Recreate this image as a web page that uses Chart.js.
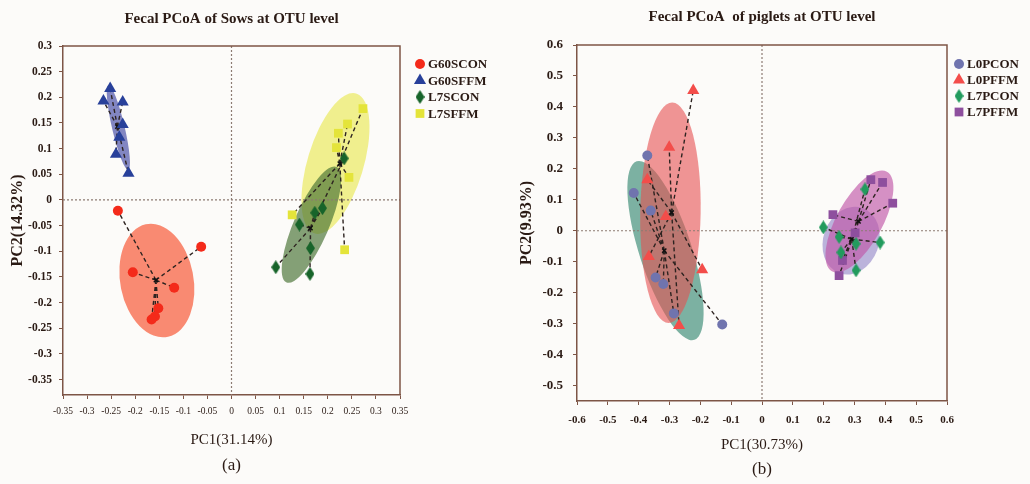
<!DOCTYPE html>
<html>
<head>
<meta charset="utf-8">
<script src="https://cdn.jsdelivr.net/npm/chart.js@4.4.1/dist/chart.umd.min.js"></script>
<style>
  html, body { margin: 0; padding: 0; background: #fcfbf9; }
  #wrap { position: relative; width: 1030px; height: 484px; }
  #sows { position: absolute; left: 0; top: 0; }
  #piglets { position: absolute; left: 520px; top: 0; }
</style>
</head>
<body>
<div id="wrap">
  <canvas id="sows" width="520" height="484"></canvas>
  <canvas id="piglets" width="510" height="484"></canvas>
</div>
<script>
// ---- (a) sows ----
const sowGroups = ['G60SCON', 'G60SFFM', 'L7SCON', 'L7SFFM'];
const g60sconX = [-0.236, -0.063, -0.205, -0.119, -0.152, -0.159, -0.166];
const g60sconY = [-0.021, -0.091, -0.141, -0.171, -0.211, -0.227, -0.233];
const g60sffmX = [-0.252, -0.266, -0.226, -0.226, -0.233, -0.240, -0.214];
const g60sffmY = [0.217, 0.193, 0.191, 0.147, 0.122, 0.089, 0.052];
const l7sconX = [0.234, 0.189, 0.173, 0.141, 0.164, 0.092, 0.163];
const l7sconY = [0.081, -0.016, -0.025, -0.048, -0.094, -0.131, -0.144];
const l7sffmX = [0.273, 0.241, 0.222, 0.218, 0.244, 0.126, 0.235];
const l7sffmY = [0.178, 0.148, 0.130, 0.102, 0.044, -0.029, -0.097];
const sowCentX = [-0.157, -0.237, 0.164, 0.225];
const sowCentY = [-0.156, 0.143, -0.055, 0.071];
// confidence ellipses: centre, half axes, angle in degrees
const sowEllX = [-0.155, -0.235, 0.166, 0.216];
const sowEllY = [-0.157, 0.141, -0.048, 0.071];
const sowEllA = [0.112, 0.085, 0.124, 0.143];
const sowEllB = [0.076, 0.013, 0.036, 0.058];
const sowEllRot = [102, 104, 65, 72];
const sowXTicks = [-0.35, -0.3, -0.25, -0.2, -0.15, -0.1, -0.05, 0, 0.05, 0.1, 0.15, 0.2, 0.25, 0.3, 0.35];
const sowYTicks = [0.3, 0.25, 0.2, 0.15, 0.1, 0.05, 0, -0.05, -0.1, -0.15, -0.2, -0.25, -0.3, -0.35];

// ---- (b) piglets ----
const pigGroups = ['L0PCON', 'L0PFFM', 'L7PCON', 'L7PFFM'];
const l0pconX = [-0.372, -0.416, -0.361, -0.345, -0.320, -0.286, -0.129];
const l0pconY = [0.243, 0.122, 0.065, -0.151, -0.172, -0.267, -0.303];
const l0pffmX = [-0.223, -0.301, -0.372, -0.312, -0.367, -0.194, -0.269];
const l0pffmY = [0.453, 0.270, 0.165, 0.046, -0.083, -0.126, -0.306];
const l7pconX = [0.334, 0.199, 0.250, 0.256, 0.305, 0.383, 0.305];
const l7pconY = [0.134, 0.011, -0.020, -0.070, -0.042, -0.038, -0.128];
const l7pffmX = [0.353, 0.391, 0.424, 0.230, 0.302, 0.261, 0.250];
const l7pffmY = [0.165, 0.156, 0.089, 0.052, -0.007, -0.096, -0.145];
const pigCentX = [-0.317, -0.293, 0.291, 0.313];
const pigCentY = [-0.064, 0.059, -0.027, 0.030];
const pigEllX = [-0.313, -0.297, 0.289, 0.316];
const pigEllY = [-0.064, 0.058, -0.032, 0.030];
const pigEllA = [0.303, 0.356, 0.112, 0.184];
const pigEllB = [0.085, 0.098, 0.09, 0.074];
const pigEllRot = [108, 89, 70, 61];
const pigXTicks = [-0.6, -0.5, -0.4, -0.3, -0.2, -0.1, 0, 0.1, 0.2, 0.3, 0.4, 0.5, 0.6];
const pigYTicks = [0.6, 0.5, 0.4, 0.3, 0.2, 0.1, 0, -0.1, -0.2, -0.3, -0.4, -0.5];

const serif = '"Liberation Serif", "Times New Roman", serif';
const brown = '#7d5546';
const ink = '#2a1a14';
Chart.defaults.font.family = serif;
Chart.defaults.color = ink;

function diamond(color, w, h) {
    const c = document.createElement('canvas');
    c.width = w; c.height = h;
    const g = c.getContext('2d');
    g.fillStyle = color;
    g.beginPath();
    g.moveTo(w / 2, 0); g.lineTo(w, h / 2); g.lineTo(w / 2, h); g.lineTo(0, h / 2);
    g.closePath();
    g.fill();
    return c;
}

function pts(xs, ys) {
    return xs.map((x, i) => ({x: x, y: ys[i]}));
}

// centroid -> sample dashed spokes, broken with null gaps
function spokes(cx, cy, xs, ys) {
    var d = [];
    for (var i = 0; i < xs.length; i++) {
        d.push({x: cx, y: cy}, {x: xs[i], y: ys[i]}, {x: xs[i], y: null});
    }
    return d;
}

function fmt(v) { return String(Math.round(v * 100) / 100); }

// ellipses + dotted zero lines under the datasets, frame + legend on top
const pcoaPlugin = {
    id: 'pcoa',
    beforeDatasetsDraw(chart, args, o) {
        const ctx = chart.ctx, xs = chart.scales.x, ys = chart.scales.y;
        const kx = xs.getPixelForValue(1) - xs.getPixelForValue(0);
        const ky = ys.getPixelForValue(0) - ys.getPixelForValue(1);
        o.drawOrder.forEach(function (i) {
            ctx.save();
            ctx.translate(xs.getPixelForValue(o.ex[i]), ys.getPixelForValue(o.ey[i]));
            ctx.scale(kx, -ky);
            ctx.rotate(o.rot[i] * Math.PI / 180);
            ctx.beginPath();
            ctx.ellipse(0, 0, o.a[i], o.b[i], 0, 0, Math.PI * 2);
            ctx.fillStyle = o.fills[i];
            ctx.fill();
            ctx.restore();
        });
        const a = chart.chartArea;
        const x0 = xs.getPixelForValue(0), y0 = ys.getPixelForValue(0);
        ctx.save();
        ctx.strokeStyle = '#8c7b72';
        ctx.lineWidth = 1.2;
        ctx.setLineDash([2, 2]);
        ctx.beginPath();
        ctx.moveTo(x0, a.top); ctx.lineTo(x0, a.bottom);
        ctx.moveTo(a.left, y0); ctx.lineTo(a.right, y0);
        ctx.stroke();
        ctx.restore();
    },
    afterDraw(chart, args, o) {
        const ctx = chart.ctx, a = chart.chartArea;
        ctx.save();
        ctx.strokeStyle = brown;
        ctx.lineWidth = 1.5;
        ctx.beginPath();
        ctx.moveTo(a.left, a.top); ctx.lineTo(a.right, a.top); ctx.lineTo(a.right, a.bottom);
        ctx.stroke();
        // legend
        ctx.font = 'bold 13px ' + serif;
        ctx.textBaseline = 'middle';
        o.legend.forEach(function (idx, i) {
            const ds = chart.data.datasets[idx];
            const y = o.ly + i * o.lgap;
            ctx.fillStyle = ds.backgroundColor;
            Chart.helpers.drawPoint(ctx, {pointStyle: ds.pointStyle, radius: ds.pointRadius, rotation: 0, borderWidth: 0}, o.lx, y);
            ctx.fillStyle = ink;
            ctx.fillText(ds.label, o.lx + 8, y + 1);
        });
        ctx.restore();
    }
};

function groupSets(names, xsList, ysList, cx, cy, colors, styles, radii) {
    var sets = [];
    names.forEach(function (n, i) {
        sets.push({
            label: n,
            data: pts(xsList[i], ysList[i]),
            backgroundColor: colors[i],
            borderWidth: 0,
            pointStyle: styles[i],
            pointRadius: radii[i],
            order: 1
        });
    });
    names.forEach(function (n, i) {
        sets.push({
            label: n + ' spokes',
            data: spokes(cx[i], cy[i], xsList[i], ysList[i]),
            showLine: true,
            spanGaps: false,
            borderColor: '#2d2320',
            borderWidth: 1.4,
            borderDash: [4, 3],
            pointRadius: 0,
            order: 3
        });
    });
    sets.push({
        label: 'centroids',
        data: pts(cx, cy),
        pointStyle: 'crossRot',
        pointRadius: 3,
        borderColor: '#111',
        borderWidth: 1.5,
        order: 2
    });
    return sets;
}

function axis(min, max, tickVals, size, tickFont, pad, title, titleFont, titlePad) {
    return {
        type: 'linear',
        min: min,
        max: max,
        afterBuildTicks: s => { s.ticks = tickVals.map(v => ({value: v})); },
        afterFit: s => { if (s.isHorizontal()) s.height = size; else s.width = size; },
        ticks: { autoSkip: false, maxRotation: 0, padding: pad, font: tickFont, color: ink, callback: v => fmt(v) },
        grid: { drawOnChartArea: false, tickLength: 4, tickColor: brown, lineWidth: 1 },
        border: { color: brown, width: 1.5 },
        title: { display: true, text: title, font: titleFont, padding: titlePad, color: ink }
    };
}

// ---- chart (a) ----
new Chart(document.getElementById('sows'), {
    type: 'scatter',
    data: {
        datasets: groupSets(sowGroups,
            [g60sconX, g60sffmX, l7sconX, l7sffmX],
            [g60sconY, g60sffmY, l7sconY, l7sffmY],
            sowCentX, sowCentY,
            ['#f42a1a', '#28409a', '#17642a', '#e4e43a'],
            ['circle', 'triangle', diamond('#17642a', 9, 14), 'rect'],
            [5, 7, 6, 6.2])
    },
    options: {
        responsive: false,
        animation: false,
        layout: { padding: { left: 0, right: 120, top: 0, bottom: 0 } },
        plugins: {
            legend: { display: false },
            tooltip: { enabled: false },
            title: { display: true, fullSize: false, text: 'Fecal PCoA of Sows at OTU level',
                font: { size: 15, weight: 'bold' }, color: ink, padding: { top: 10, bottom: 18 } },
            subtitle: { display: true, fullSize: false, position: 'bottom', text: '(a)',
                font: { size: 17 }, color: ink, padding: { top: 0, bottom: 7.8 } },
            pcoa: {
                ex: sowEllX, ey: sowEllY, a: sowEllA, b: sowEllB, rot: sowEllRot,
                fills: ['rgba(248,110,80,0.8)', 'rgba(90,95,175,0.75)', 'rgba(70,112,50,0.66)', 'rgba(232,232,70,0.6)'],
                drawOrder: [0, 1, 3, 2],
                legend: [0, 1, 2, 3], lx: 420, ly: 64, lgap: 16.5
            }
        },
        scales: {
            x: axis(-0.35, 0.35, sowXTicks, 60.8, { size: 9.5 }, 7, 'PC1(31.14%)', { size: 15 }, { top: 0, bottom: 6.8 }),
            y: axis(-0.38, 0.3, sowYTicks, 63, { size: 11.5, weight: 'bold' }, 7, 'PC2(14.32%)', { size: 16, weight: 'bold' }, { top: 8, bottom: 0 })
        }
    },
    plugins: [pcoaPlugin]
});

// ---- chart (b) ----
new Chart(document.getElementById('piglets'), {
    type: 'scatter',
    data: {
        datasets: groupSets(pigGroups,
            [l0pconX, l0pffmX, l7pconX, l7pffmX],
            [l0pconY, l0pffmY, l7pconY, l7pffmY],
            pigCentX, pigCentY,
            ['#7074ae', '#f34d4a', '#229b5d', '#8e4f9e'],
            ['circle', 'triangle', diamond('#229b5d', 9, 14), 'rect'],
            [5, 7, 6, 6.2])
    },
    options: {
        responsive: false,
        animation: false,
        layout: { padding: { left: 0, right: 83, top: 0, bottom: 0 } },
        plugins: {
            legend: { display: false },
            tooltip: { enabled: false },
            title: { display: true, fullSize: false, text: 'Fecal PCoA  of piglets at OTU level',
                font: { size: 15, weight: 'bold' }, color: ink, padding: { top: 8, bottom: 19 } },
            subtitle: { display: true, fullSize: false, position: 'bottom', text: '(b)',
                font: { size: 17 }, color: ink, padding: { top: 0, bottom: 3.8 } },
            pcoa: {
                ex: pigEllX, ey: pigEllY, a: pigEllA, b: pigEllB, rot: pigEllRot,
                fills: ['rgba(75,148,128,0.72)', 'rgba(230,80,80,0.6)', 'rgba(165,155,208,0.75)', 'rgba(192,86,168,0.65)'],
                drawOrder: [0, 1, 2, 3],
                legend: [0, 1, 2, 3], lx: 439, ly: 64, lgap: 16
            }
        },
        scales: {
            x: axis(-0.6, 0.6, pigXTicks, 58.8, { size: 11, weight: 'bold' }, 9, 'PC1(30.73%)', { size: 15 }, { top: 0, bottom: 5.8 }),
            y: axis(-0.55, 0.6, pigYTicks, 57, { size: 13, weight: 'bold' }, 10, 'PC2(9.93%)', { size: 16, weight: 'bold', lineHeight: 0.875 }, { top: 0, bottom: 0 })
        }
    },
    plugins: [pcoaPlugin]
});
</script>
</body>
</html>
